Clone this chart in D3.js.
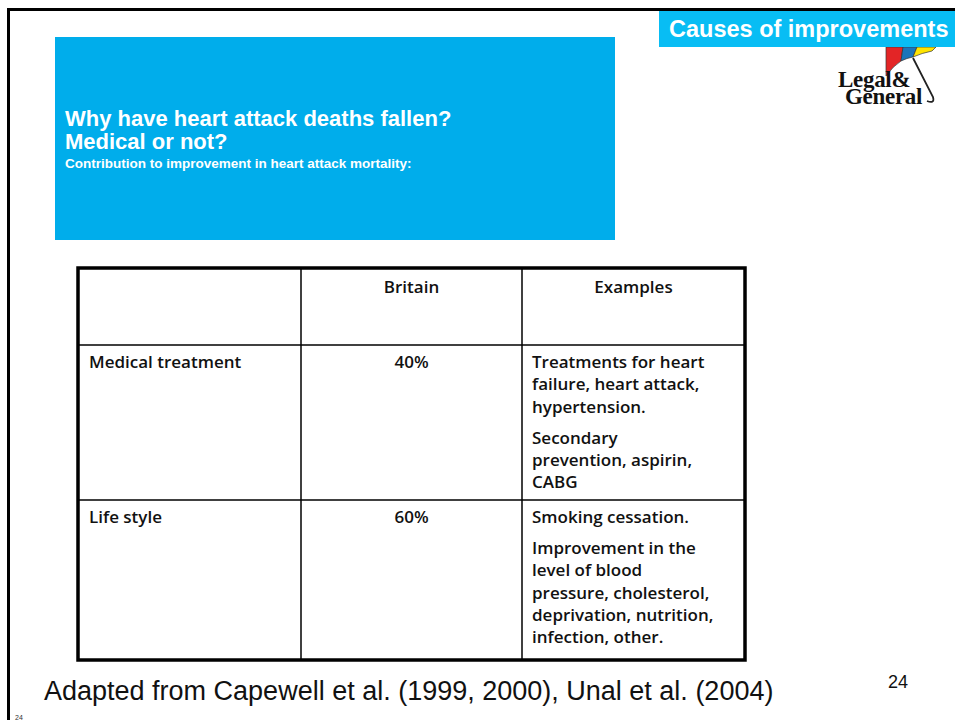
<!DOCTYPE html>
<html><head><meta charset="utf-8">
<script src="https://cdn.jsdelivr.net/npm/d3@7"></script>
<style>html,body{margin:0;padding:0;background:#fff;}svg{display:block;}</style>
</head><body>
<script>
const headerCols = ["", "Britain", "Examples"];
const rowLabels = ["Medical treatment", "Life style"];
const britainValues = ["40%", "60%"];
const examples = [
  [["Treatments for heart", "failure, heart attack,", "hypertension."], ["Secondary", "prevention, aspirin,", "CABG"]],
  [["Smoking cessation."], ["Improvement in the", "level of blood", "pressure, cholesterol,", "deprivation, nutrition,", "infection, other."]]
];
const titleLines = ["Why have heart attack deaths fallen?", "Medical or not?"];
const subtitle = "Contribution to improvement in heart attack mortality:";
const banner = "Causes of improvements";
const logoLines = ["Legal&", "General"];
const source = "Adapted from Capewell et al. (1999, 2000), Unal et al. (2004)";
const pageNum = "24";

const W = 955, H = 720;
const svg = d3.select("body").append("svg").attr("width", W).attr("height", H);

// slide frame
svg.append("line").attr("x1", 7).attr("x2", W).attr("y1", 9.5).attr("y2", 9.5).attr("stroke", "#000").attr("stroke-width", 3);
svg.append("line").attr("x1", 8.5).attr("x2", 8.5).attr("y1", 8).attr("y2", H).attr("stroke", "#000").attr("stroke-width", 3);

// blue title box
svg.append("rect").attr("x", 55).attr("y", 37).attr("width", 560).attr("height", 203).attr("fill", "#00ADEB");
svg.selectAll("text.title").data(titleLines).join("text")
  .attr("class", "title").attr("x", 65).attr("y", (d, i) => 126 + i * 23)
  .attr("fill", "#fff").attr("font-family", "Liberation Sans, Arial, sans-serif")
  .attr("font-weight", "bold").attr("font-size", 22).text(d => d);
svg.append("text").attr("x", 65).attr("y", 168).attr("fill", "#fff")
  .attr("font-family", "Liberation Sans, Arial, sans-serif").attr("font-weight", "bold")
  .attr("font-size", 13.5).text(subtitle);

// logo umbrella
const lg = svg.append("g");
const canopy = [
  { c: "#E32526", d: "M886,47 L903,47 L901,61 Q893,66 886,76 Z" },
  { c: "#1B75BB", d: "M903,47 L917,47 L913,57 Q907,58 901,61 Z" },
  { c: "#FFE400", d: "M917,47 L936,47 L932,51 Q922,53 913,57 Z" }
];
lg.selectAll("path.canopy").data(canopy).join("path").attr("class", "canopy")
  .attr("d", d => d.d).attr("fill", d => d.c).attr("stroke", "#333").attr("stroke-width", 0.7);
lg.append("path").attr("d", "M913,58 L933,97 Q935,104 927,101").attr("stroke", "#222").attr("stroke-width", 1.8).attr("fill", "none");

// banner
svg.append("rect").attr("x", 659).attr("y", 11).attr("width", W - 659).attr("height", 36).attr("fill", "#08BDF4");
svg.append("text").attr("x", 669).attr("y", 37).attr("fill", "#fff")
  .attr("font-family", "Liberation Sans, Arial, sans-serif").attr("font-weight", "bold")
  .attr("font-size", 23.5).text(banner);

lg.selectAll("text.logo").data(logoLines).join("text").attr("class", "logo")
  .attr("font-family", "Liberation Serif, Times New Roman, serif")
  .attr("font-size", 23).attr("font-weight", "bold").attr("fill", "#111").attr("letter-spacing", -0.3)
  .attr("x", (d, i) => i ? 845 : 838).attr("y", (d, i) => i ? 104 : 87).text(d => d);

// table
const colX = [78, 301, 522, 745];
const rowY = [268, 345, 500, 660];
const tf = "'Open Sans', sans-serif";
const fs = 17;
const tg = svg.append("g");
tg.selectAll("line.v").data(colX.slice(1, 3)).join("line").attr("class", "v")
  .attr("x1", d => d).attr("x2", d => d).attr("y1", rowY[0]).attr("y2", rowY[3]).attr("stroke", "#000").attr("stroke-width", 1.5);
tg.selectAll("line.h").data(rowY.slice(1, 3)).join("line").attr("class", "h")
  .attr("x1", colX[0]).attr("x2", colX[3]).attr("y1", d => d).attr("y2", d => d).attr("stroke", "#000").attr("stroke-width", 1.5);
tg.append("rect").attr("x", colX[0]).attr("y", rowY[0]).attr("width", colX[3] - colX[0]).attr("height", rowY[3] - rowY[0])
  .attr("fill", "none").attr("stroke", "#000").attr("stroke-width", 3.5);

const txt = (x, y, t, anchor) => tg.append("text").attr("x", x).attr("y", y).attr("text-anchor", anchor || "start")
  .attr("font-family", tf).attr("font-weight", 600).attr("font-size", fs).attr("fill", "#111").text(t);

headerCols.forEach((h, i) => { if (h) txt((colX[i] + colX[i + 1]) / 2, 293, h, "middle"); });
rowLabels.forEach((r, i) => {
  const y0 = rowY[i + 1] + 23;
  txt(89, y0, r);
  txt((colX[1] + colX[2]) / 2, y0, britainValues[i], "middle");
  let y = y0;
  examples[i].forEach((para, pi) => {
    if (pi > 0) y += 31;
    para.forEach((line, li) => { if (li > 0) y += 22.3; txt(532, y, line); });
  });
});

// footer
svg.append("text").attr("x", 44).attr("y", 700).attr("font-family", "Liberation Sans, Arial, sans-serif")
  .attr("font-size", 27).attr("fill", "#111").text(source);
svg.append("text").attr("x", 888).attr("y", 688).attr("font-family", "Liberation Sans, Arial, sans-serif")
  .attr("font-size", 18).attr("fill", "#111").text(pageNum);
svg.append("text").attr("x", 15).attr("y", 720).attr("font-family", "Liberation Sans, Arial, sans-serif")
  .attr("font-size", 7).attr("fill", "#333").text(pageNum);
</script>
</body></html>
